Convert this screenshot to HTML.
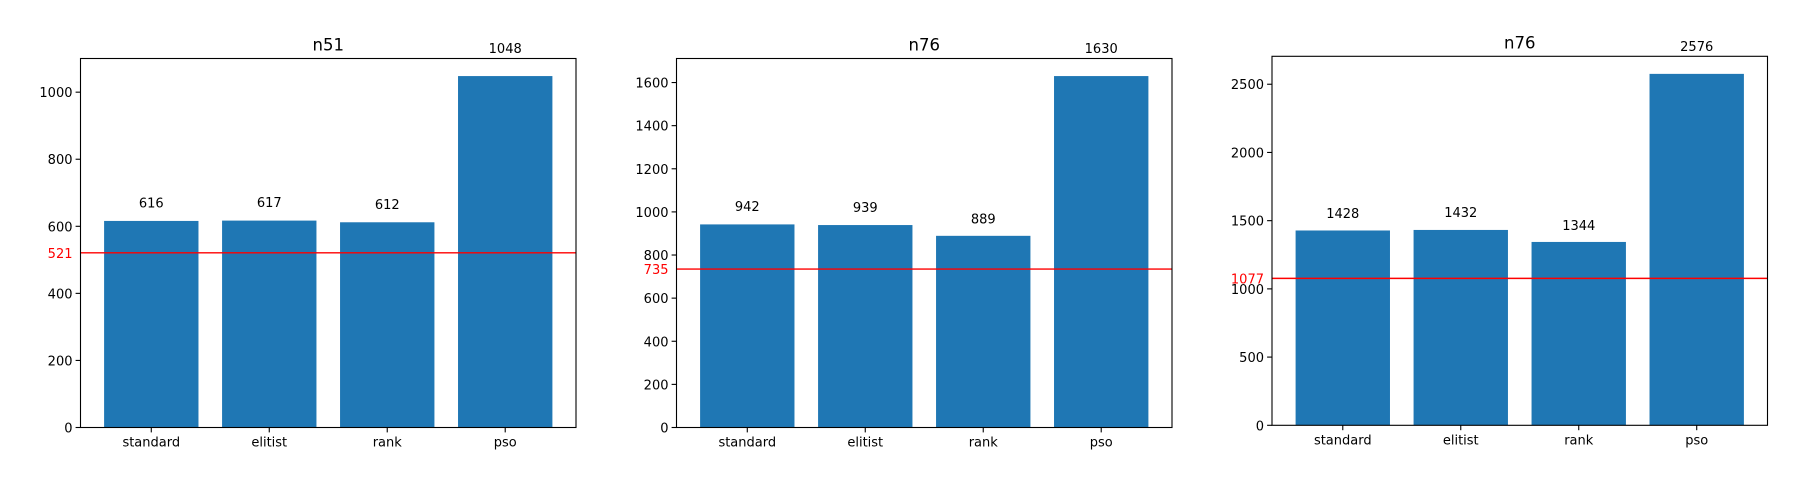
<!DOCTYPE html>
<html><head><meta charset="utf-8"><style>
html,body{margin:0;padding:0;background:#fff;}
svg{display:block;font-family:"DejaVu Sans","Liberation Sans",sans-serif;}
</style></head><body>
<svg id="chart" width="1798" height="480"></svg>
<script>
const categories = ["standard","elitist","rank","pso"];
const titles = ["n51","n76","n76"];
const valuesA = [616,617,612,1048];
const valuesB = [942,939,889,1630];
const valuesC = [1428,1432,1344,2576];
const thresholds = [521,735,1077];
const ticksA = [0,200,400,600,800,1000];
const ticksB = [0,200,400,600,800,1000,1200,1400,1600];
const ticksC = [0,500,1000,1500,2000,2500];

const series = [valuesA, valuesB, valuesC];
const tickSets = [ticksA, ticksB, ticksC];
const layout = [
  {l:80.5, t:58.5, b:427.5},
  {l:676.5, t:58.5, b:427.5},
  {l:1272, t:56.3, b:425.3}
];
const W = 495.5;
const NS = "http://www.w3.org/2000/svg";
const svg = document.getElementById('chart');
function mk(tag, attrs, parent){
  const e = document.createElementNS(NS, tag);
  for (const k in attrs) e.setAttribute(k, attrs[k]);
  (parent||svg).appendChild(e);
  return e;
}
series.forEach((vals, p) => {
  const L = layout[p];
  const H = L.b - L.t;
  const ymax = Math.max(...vals) * 1.05;
  const y = v => L.b - v / ymax * H;
  const x = i => L.l + (i + 0.6) / 4.2 * W;
  const bw = 0.8 / 4.2 * W;
  const g = mk('g', {});
  
  
  const t = mk('text', {x: L.l + W/2, y: L.t - 8, 'text-anchor':'middle', 'font-size':'16.5', fill:'#000'}, g);
  t.textContent = titles[p];
  
  
  vals.forEach((v, i) => {
    const r = mk('rect', {x: x(i) - bw/2, y: y(v), width: bw, height: L.b - y(v), fill:'#1f77b4'}, g);
    
    
    const lb = mk('text', {x: x(i), y: y(v*1.065), 'text-anchor':'middle', 'font-size':'13', fill:'#000'}, g);
    lb.textContent = v;
    
    
    mk('line', {x1:x(i), x2:x(i), y1:L.b, y2:L.b+4.9, stroke:'#000', 'stroke-width':1.1}, g);
    const xl = mk('text', {x:x(i), y:L.b+19, 'text-anchor':'middle', 'font-size':'13', fill:'#000'}, g);
    xl.textContent = categories[i];
    
    
  });
  tickSets[p].forEach(tv => {
    mk('line', {x1:L.l-4.9, x2:L.l, y1:y(tv), y2:y(tv), stroke:'#000', 'stroke-width':1.1}, g);
    const tl = mk('text', {x:L.l-8, y:y(tv)+5, 'text-anchor':'end', 'font-size':'13', fill:'#000'}, g);
    tl.textContent = tv;
    
    
  });
  const th = thresholds[p];
  const hl = mk('line', {x1:L.l, x2:L.l+W, y1:y(th), y2:y(th), stroke:'#ff0000', 'stroke-width':1.4}, g);
  
  
  const htl = mk('text', {x:L.l-8, y:y(th)+5, 'text-anchor':'end', 'font-size':'13', fill:'#ff0000'}, g);
  htl.textContent = th;
  
  
  const fr = mk('rect', {x:L.l, y:L.t, width:W, height:H, fill:'none', stroke:'#000', 'stroke-width':1.1}, g);
  
  
});
</script>
</body></html>
